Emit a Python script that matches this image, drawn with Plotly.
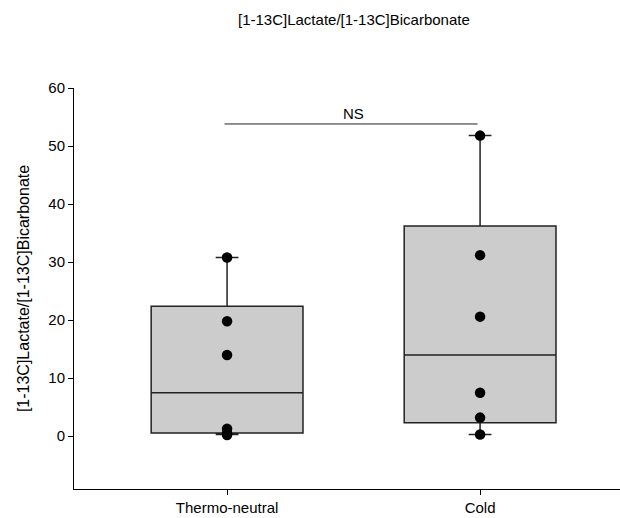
import plotly.graph_objects as go

categories = ["Thermo-neutral", "Cold"]
positions = [0, 1]

# box statistics
q1 = [0.57, 2.3]
median = [7.5, 14.0]
q3 = [22.4, 36.2]
lowerfence = [0.3, 0.3]
upperfence = [30.8, 51.8]

# individual points
thermo_points = [30.8, 19.8, 14.0, 1.3, 0.5, 0.2]
cold_points = [51.8, 31.2, 20.6, 7.5, 3.2, 0.3]

ns_level = 53.8
ns_text = "NS"

font_family = "Liberation Sans, Arial, sans-serif"

fig = go.Figure()
fig.add_trace(go.Box(
    x=positions, q1=q1, median=median, q3=q3,
    lowerfence=lowerfence, upperfence=upperfence,
    width=0.6, whiskerwidth=0.15,
    fillcolor="#cccccc", line=dict(color="#222222", width=1.5),
    boxpoints=False, showlegend=False, hoverinfo="skip",
))

for pos, pts in zip(positions, [thermo_points, cold_points]):
    fig.add_trace(go.Scatter(
        x=[pos] * len(pts), y=pts, mode="markers",
        marker=dict(color="black", size=10.5),
        showlegend=False, hoverinfo="skip",
    ))

# significance line
fig.add_trace(go.Scatter(
    x=[positions[0] - 0.01, positions[1] - 0.01], y=[ns_level, ns_level],
    mode="lines", line=dict(color="#222222", width=1),
    showlegend=False, hoverinfo="skip",
))
fig.add_annotation(
    x=(positions[0] + positions[1]) / 2, y=ns_level, text=ns_text,
    showarrow=False, yanchor="bottom", yshift=0,
    font=dict(family=font_family, size=15, color="black"),
)

fig.add_annotation(
    xref="paper", yref="paper", x=(354 - 74) / 546, y=1 + (88 - 20) / 401,
    text="[1-13C]Lactate/[1-13C]Bicarbonate", showarrow=False,
    xanchor="center", yanchor="middle",
    font=dict(family=font_family, size=15, color="black"),
)

fig.update_layout(
    width=620, height=518,
    margin=dict(l=74, r=0, t=88, b=29),
    paper_bgcolor="white", plot_bgcolor="white",
    font=dict(family=font_family, size=15, color="black"),
    xaxis=dict(
        range=[-0.605, 1.553], tickvals=positions, ticktext=categories,
        showline=True, linecolor="black", linewidth=1,
        ticks="outside", ticklen=5, tickcolor="black",
        showgrid=False, zeroline=False,
        tickfont=dict(family=font_family, size=15, color="black"),
    ),
    yaxis=dict(
        range=[-9.1, 60], tickvals=[0, 10, 20, 30, 40, 50, 60],
        showline=True, linecolor="black", linewidth=1,
        ticks="outside", ticklen=5, tickcolor="black",
        showgrid=False, zeroline=False,
        title=dict(text="[1-13C]Lactate/[1-13C]Bicarbonate", standoff=14,
                   font=dict(family=font_family, size=16, color="black")),
        tickfont=dict(family=font_family, size=15, color="black"),
    ),
)

# remove the default page margin so the 620x518 figure fills the window
fig.write_html(
    "out.html",
    config={"displayModeBar": False},
    post_script="document.body.style.margin='0';document.body.style.overflow='hidden';",
)
